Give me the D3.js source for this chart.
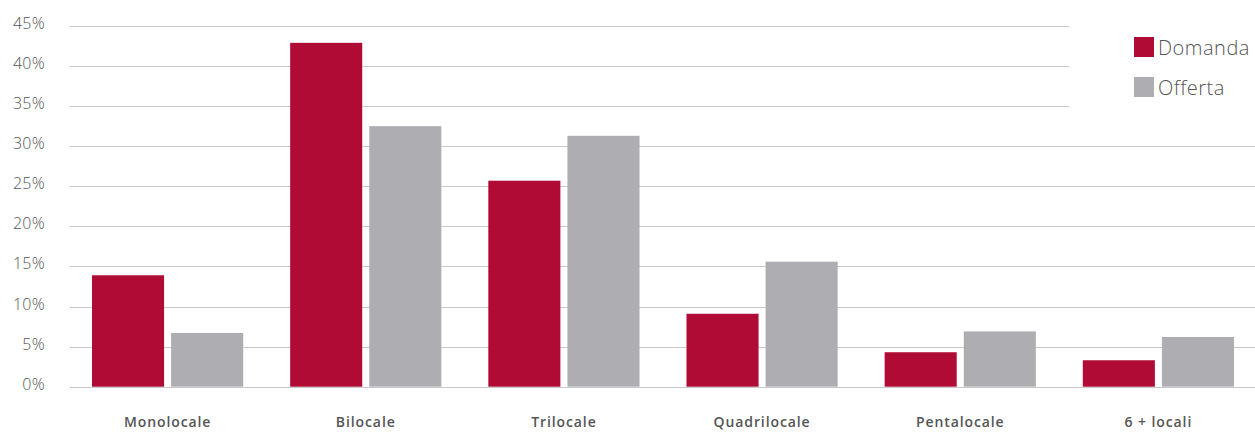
<!DOCTYPE html>
<html>
<head>
<meta charset="utf-8">
<script src="https://cdn.jsdelivr.net/npm/d3@7"></script>
<style>
  body { margin: 0; background: #fff; }
  text { font-family: "Open Sans", Lato, sans-serif; fill: #555; }
</style>
</head>
<body>
<div id="chart"></div>
<script>
var svgWidth = 1255;
var svgHeight = 432;

// data
var categories = ["Monolocale", "Bilocale", "Trilocale", "Quadrilocale", "Pentalocale", "6 + locali"];
var series = ["Domanda", "Offerta"];
var domanda = [13.9, 42.9, 25.7, 9.1, 4.3, 3.3];
var offerta = [6.7, 32.5, 31.3, 15.6, 6.9, 6.2];
var yTicks = [0, 5, 10, 15, 20, 25, 30, 35, 40, 45];
var colors = ["#b00b35", "#aeadb1"];

var svg = d3.select("#chart")
  .append("svg")
  .attr("width", svgWidth)
  .attr("height", svgHeight);

var yScale = d3.scaleLinear()
  .domain([0, 45])
  .range([386.7, 26]);

var xScale = d3.scaleBand()
  .domain(categories)
  .range([70, 1256])
  .paddingInner(0.237)
  .paddingOuter(0.111);

var xSub = d3.scaleBand()
  .domain(series)
  .range([0, xScale.bandwidth()])
  .paddingInner(0.089);

// gridlines
svg.append("g")
  .selectAll("line")
  .data(yTicks)
  .enter()
  .append("line")
  .attr("x1", 70)
  .attr("x2", 1255)
  .attr("y1", d => Math.round(yScale(d)) + 0.5)
  .attr("y2", d => Math.round(yScale(d)) + 0.5)
  .attr("stroke", "#c9c9c9")
  .attr("stroke-width", 1);

// legend background hides the top gridlines on the right
svg.append("rect")
  .attr("x", 1069)
  .attr("y", 0)
  .attr("width", 190)
  .attr("height", 125)
  .attr("fill", "#fff");

// y labels
svg.append("g")
  .selectAll("text")
  .data(yTicks)
  .enter()
  .append("text")
  .attr("x", 45)
  .attr("y", d => yScale(d) + 3)
  .attr("text-anchor", "end")
  .attr("font-size", 16)
  .attr("font-weight", 300)
  .attr("letter-spacing", 0.3)
  .text(d => d + "%");

// bars
var rows = categories.map(function(c, i) {
  return { cat: c, values: [domanda[i], offerta[i]] };
});

var groups = svg.append("g")
  .selectAll("g")
  .data(rows)
  .enter()
  .append("g")
  .attr("transform", d => `translate(${xScale(d.cat)}, 0)`);

groups.selectAll("rect")
  .data(d => d.values.map((v, j) => ({ s: series[j], v: v, j: j })))
  .enter()
  .append("rect")
  .attr("x", d => xSub(d.s))
  .attr("y", d => yScale(d.v))
  .attr("width", xSub.bandwidth())
  .attr("height", d => yScale(0) - yScale(d.v))
  .attr("fill", d => colors[d.j]);

// x labels
svg.append("g")
  .selectAll("text")
  .data(categories)
  .enter()
  .append("text")
  .attr("x", d => xScale(d) + xScale.bandwidth() / 2)
  .attr("y", 427)
  .attr("text-anchor", "middle")
  .attr("font-size", 14)
  .attr("font-weight", 600)
  .attr("letter-spacing", 0.9)
  .text(d => d);

// legend
var legend = svg.append("g")
  .selectAll("g")
  .data(series)
  .enter()
  .append("g")
  .attr("transform", (d, i) => `translate(1134, ${37 + i * 40})`);

legend.append("rect")
  .attr("width", 20)
  .attr("height", 20)
  .attr("fill", (d, i) => colors[i]);

legend.append("text")
  .attr("x", 24)
  .attr("y", 18)
  .attr("font-size", 20)
  .attr("font-weight", 300)
  .attr("letter-spacing", 0.5)
  .text(d => d);
</script>
</body>
</html>
